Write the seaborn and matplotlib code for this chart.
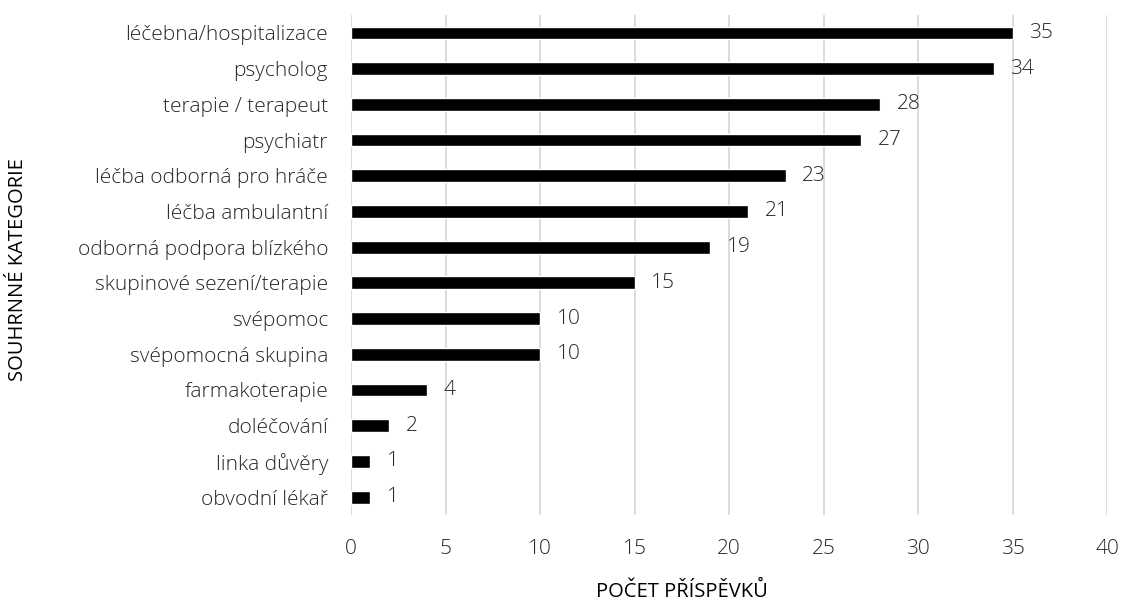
import matplotlib
matplotlib.use("Agg")
import matplotlib.pyplot as plt
import seaborn as sns
import pandas as pd

categories = [
    "léčebna/hospitalizace",
    "psycholog",
    "terapie / terapeut",
    "psychiatr",
    "léčba odborná pro hráče",
    "léčba ambulantní",
    "odborná podpora blízkého",
    "skupinové sezení/terapie",
    "svépomoc",
    "svépomocná skupina",
    "farmakoterapie",
    "doléčování",
    "linka důvěry",
    "obvodní lékař",
]
counts = [35, 34, 28, 27, 23, 21, 19, 15, 10, 10, 4, 2, 1, 1]
x_ticks = [0, 5, 10, 15, 20, 25, 30, 35, 40]

sns.set_theme(style="white")
plt.rcParams["font.family"] = ["Open Sans", "DejaVu Sans"]

df = pd.DataFrame({"kategorie": categories, "pocet": counts})

fig = plt.figure(figsize=(11.25, 6.03), dpi=100)
ax = fig.add_axes([0.312, 0.146, 0.672, 0.829])

sns.barplot(data=df, x="pocet", y="kategorie", color="black",
            width=0.36, ax=ax, zorder=3, saturation=1)

text_col = "#262626"
fs = 15
for bar, val in zip(ax.patches, counts):
    ax.annotate(str(val),
                xy=(bar.get_width(), bar.get_y() + bar.get_height() / 2),
                xytext=(12, 0), textcoords="offset points",
                ha="left", va="center", fontsize=fs, color=text_col,
                fontweight="light")

ax.set_xlim(0, 40)
ax.set_ylim(len(categories) - 0.5, -0.5)
ax.set_xticks(x_ticks)
ax.set_xticklabels([str(t) for t in x_ticks], fontsize=fs, color=text_col,
                   fontweight="light")
ax.set_yticks(range(len(categories)))
ax.set_yticklabels(categories, fontsize=fs, color=text_col, fontweight="light")
ax.tick_params(axis="both", length=0)
ax.tick_params(axis="x", pad=17)
ax.tick_params(axis="y", pad=16.5)

ax.xaxis.grid(True, color="#d9d9d9", linewidth=1.3, zorder=0)
ax.yaxis.grid(False)
for side in ["top", "right", "bottom", "left"]:
    ax.spines[side].set_visible(False)

ax.set_xlabel("POČET PŘÍSPĚVKŮ", fontsize=14.5, color="black")
ax.xaxis.label.set_va("center")
ax.xaxis.set_label_coords(0.438, -0.154)
ax.set_ylabel("SOUHRNNÉ KATEGORIE", fontsize=14.5, color="black")
ax.yaxis.label.set_va("center")
ax.yaxis.set_label_coords(-0.440, 0.49)

fig.savefig("out.png", dpi=100)
